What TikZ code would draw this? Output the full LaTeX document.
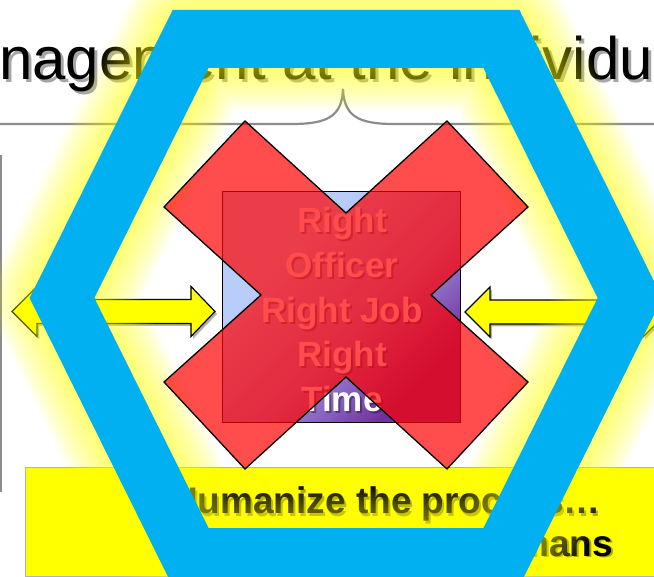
\documentclass[tikz,border=0pt]{standalone}
\usepackage{fontspec}
\setmainfont{Liberation Sans}
\definecolor{hexblue}{HTML}{00B0F0}
\definecolor{boxlight}{RGB}{185,205,250}
\definecolor{boxmid}{RGB}{160,144,216}
\definecolor{boxpurple}{RGB}{112,48,160}
\definecolor{rulegray}{RGB}{140,140,140}
\definecolor{slideyellow}{HTML}{FFFF00}
\pgfdeclareverticalshading{boxshade}{100bp}{color(0bp)=(boxpurple); color(27bp)=(boxpurple); color(45bp)=(boxmid); color(66bp)=(boxlight); color(100bp)=(boxlight)}
\tikzset{
  titlefont/.style={font=\fontsize{60}{72}\selectfont, inner sep=0pt},
  boxfont/.style={font=\fontsize{35}{42}\selectfont\bfseries, inner sep=0pt, anchor=base},
  notefont/.style={font=\fontsize{37}{44}\selectfont\bfseries, inner sep=0pt},
  yarrow/.style={fill=slideyellow, draw=black, line width=1.2pt, line join=miter},
  yarrowshadow/.style={fill=black, opacity=0.3},
  glowline/.style={slideyellow, opacity=0.05, line join=round},
  hexband/.style={hexblue, line width=58pt, line join=miter},
  crossshape/.style={draw=black, line width=1.3pt, fill=red, fill opacity=0.7, line join=miter}
}
\begin{document}
\begin{tikzpicture}[x=1pt,y=-1pt]
\useasboundingbox (0,0) rectangle (654,577);
\clip (0,0) rectangle (654,577);
\fill[white] (0,0) rectangle (654,577);

% rule with brace and left border line
\draw[rulegray, line width=2.2pt] (0,124) -- (292,124) .. controls (328,124) and (342,116) .. (343,89)
      .. controls (344,116) and (358,124) .. (394,124) -- (654,124);
\draw[rulegray, line width=1.5pt] (1,155) -- (1,492);

% title
\node[titlefont, text=black, opacity=0.35, anchor=base west] (titleshadow) at (2,83) {nagement at the individu};
\node[titlefont, text=black, anchor=base west] (title) at (-1,80) {nagement at the individu};

% yellow note box
\draw[gray!60, fill=slideyellow, line width=0.8pt] (25,467) rectangle (662,576);
\node[notefont, text=black, opacity=0.35, anchor=base west] (note1s) at (173,516) {Humanize the process…};
\node[notefont, text=black, anchor=base west] (note1) at (171,514) {Humanize the process…};
\node[notefont, text=black, opacity=0.35, anchor=base east] (note2s) at (615,558) {mans};
\node[notefont, text=black, anchor=base east] (note2) at (613,556) {mans};

% yellow arrows
\fill[yarrowshadow, shift={(2,2.5)}] (12,311.5) -- (37,286.5) -- (37,299.5) -- (191,299.5) -- (191,286.5) -- (215,311.5)
  -- (191,336.5) -- (191,323.5) -- (37,323.5) -- (37,336.5) -- cycle;
\draw[yarrow] (12,311.5) -- (37,286.5) -- (37,299.5) -- (191,299.5) -- (191,286.5) -- (215,311.5)
  -- (191,336.5) -- (191,323.5) -- (37,323.5) -- (37,336.5) -- cycle;
\fill[yarrowshadow, shift={(2,2.5)}] (465,312) -- (490,287) -- (490,300) -- (643,300) -- (643,287) -- (668,312)
  -- (643,337) -- (643,324) -- (490,324) -- (490,337) -- cycle;
\draw[yarrow] (465,312) -- (490,287) -- (490,300) -- (643,300) -- (643,287) -- (668,312)
  -- (643,337) -- (643,324) -- (490,324) -- (490,337) -- cycle;

% central box
\draw[black, line width=1pt, shading=boxshade, shading angle=45] (222,192) rectangle (460,423);
\foreach \txt/\yy [count=\i] in {Right/233, Officer/278, Right Job/323, Right/367, Time/412}{
  \node[boxfont, text=black, opacity=0.35] (boxs\i) at (344,\yy+2) {\txt};
  \node[boxfont, text=white] (box\i) at (342,\yy) {\txt};
}

% glow around hexagon
\foreach \w in {142,136,...,64}{
  \draw[glowline, line width=\w pt] (190.6,39) -- (501.4,39) -- (630,298) -- (501.4,557) -- (190.6,557) -- (62,298) -- cycle;
}
% blue hexagon band
\draw[hexband] (190.6,39) -- (501.4,39) -- (630,298) -- (501.4,557) -- (190.6,557) -- (62,298) -- cycle;

% red cross
\draw[crossshape] (245,121) -- (346,213) -- (447,121) -- (528,207) -- (431,295) -- (528,382) -- (447,469)
  -- (346,377) -- (245,469) -- (164,382) -- (261,295) -- (164,207) -- cycle;
\end{tikzpicture}
\end{document}
